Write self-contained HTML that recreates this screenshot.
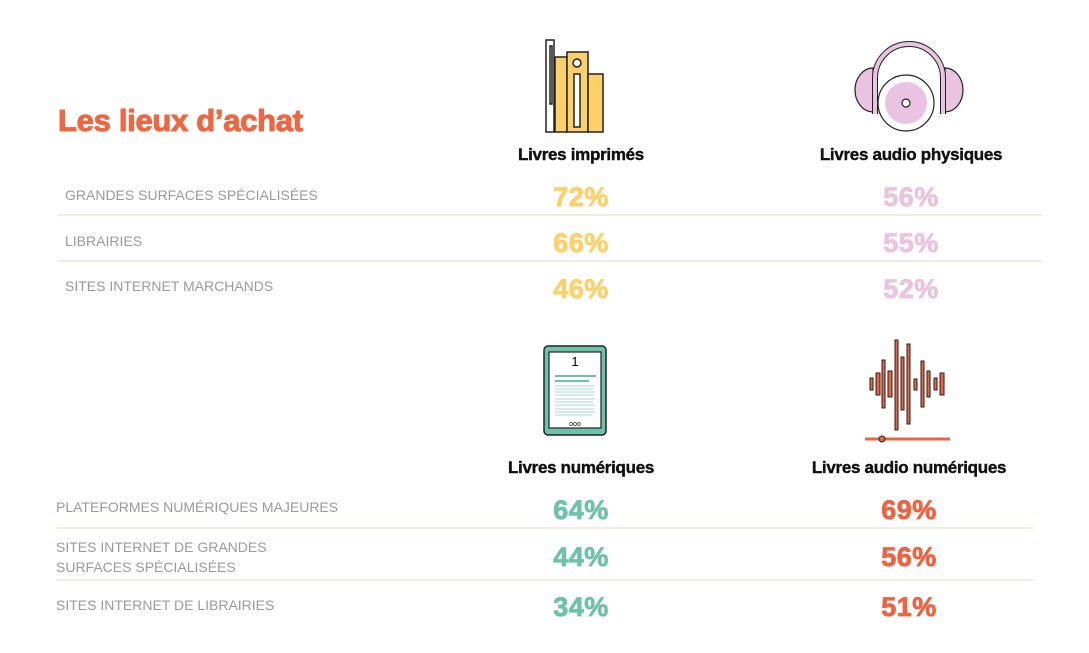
<!DOCTYPE html>
<html><head><meta charset="utf-8"><style>
body{margin:0;background:#fff;width:1089px;height:653px;position:relative;overflow:hidden;font-family:"Liberation Sans",sans-serif}
.a{position:absolute}
.t{left:58px;top:103px;font-size:31px;font-weight:bold;color:#ef6642;letter-spacing:-0.3px;-webkit-text-stroke:1px #ef6642}
.h{font-size:17px;font-weight:bold;color:#111;transform:translateX(-50%);white-space:nowrap;letter-spacing:-0.3px;-webkit-text-stroke:0.4px #111}
.l{font-size:14px;color:#9a9a9a;line-height:20px;letter-spacing:0}
.v{font-size:27px;font-weight:bold;transform:translateX(-50%);letter-spacing:0.5px;-webkit-text-stroke:0.8px currentColor}
.s{height:2px;background:#f6ebe0}
.y{color:#fdd06a}.p{color:#eac4df}.g{color:#6fc2aa}.o{color:#ef6340}
</style></head><body>
<div class="a t">Les lieux d’achat</div>

<svg class="a" style="left:540px;top:36px" width="70" height="100">
<g stroke="#222" stroke-width="1.5"><rect x="6" y="4" width="8" height="92" fill="#fff"/><rect x="10" y="10" width="2" height="58" fill="#fff"/>
<rect x="15" y="21" width="12" height="75" fill="#fdd06a"/><rect x="27" y="16" width="21" height="80" fill="#fdd06a"/><circle cx="37" cy="27" r="4" fill="#fff"/><rect x="34" y="38" width="6" height="53" fill="#fff"/>
<rect x="48" y="38" width="15" height="58" fill="#fdd06a"/></g></svg>
<svg class="a" style="left:853px;top:38px" width="115" height="100">
<g stroke="#222" stroke-width="1.2">
<path d="M20 30 A18 22 0 0 0 20 74 Z" fill="#e9c3df"/><path d="M92 30 A18 22 0 0 1 92 74 Z" fill="#e9c3df"/>
<path d="M22 76 V40 A34 34 0 0 1 90 40 V76" fill="none" stroke="#222" stroke-width="6"/>
<path d="M22 76 V40 A34 34 0 0 1 90 40 V76" fill="none" stroke="#e9c3df" stroke-width="4"/>
<circle cx="53" cy="65" r="28" fill="#fff"/><circle cx="53" cy="65" r="21" fill="#e9c3df" stroke="none"/><circle cx="53" cy="65" r="4" fill="#fff"/></g></svg>

<div class="a h" style="left:581px;top:145px">Livres imprimés</div>
<div class="a h" style="left:911px;top:145px">Livres audio physiques</div>

<div class="a l" style="left:65px;top:185px">GRANDES SURFACES SPÉCIALISÉES</div>
<div class="a l" style="left:65px;top:231px">LIBRAIRIES</div>
<div class="a l" style="left:65px;top:276px">SITES INTERNET MARCHANDS</div>
<div class="a s" style="left:58px;top:214px;width:984px"></div>
<div class="a s" style="left:58px;top:260px;width:984px"></div>

<div class="a v y" style="left:581px;top:182px">72%</div>
<div class="a v y" style="left:581px;top:228px">66%</div>
<div class="a v y" style="left:581px;top:274px">46%</div>
<div class="a v p" style="left:911px;top:182px">56%</div>
<div class="a v p" style="left:911px;top:228px">55%</div>
<div class="a v p" style="left:911px;top:274px">52%</div>

<svg class="a" style="left:542px;top:344px" width="66" height="94">
<rect x="2" y="2" width="62" height="89" rx="4" fill="#6fc2aa" stroke="#222" stroke-width="1.5"/><rect x="7" y="8" width="52" height="76" fill="#fff" stroke="#222" stroke-width="1.2"/>
<text x="33" y="22" font-size="13" text-anchor="middle" font-family="Liberation Sans">1</text>
<g stroke="#6fc2aa"><line x1="13" y1="32" x2="54" y2="32" stroke-width="2"/><line x1="13" y1="37" x2="47" y2="37" stroke-width="2"/>
<g stroke-width="1" opacity=".6"><line x1="13" y1="42" x2="53" y2="42"/><line x1="13" y1="45" x2="51" y2="45"/><line x1="13" y1="48" x2="53" y2="48"/><line x1="13" y1="51" x2="52" y2="51"/><line x1="13" y1="55" x2="53" y2="55"/><line x1="13" y1="58" x2="51" y2="58"/><line x1="13" y1="61" x2="53" y2="61"/><line x1="13" y1="65" x2="52" y2="65"/><line x1="13" y1="68" x2="53" y2="68"/><line x1="13" y1="71" x2="50" y2="71"/></g></g>
<text x="33" y="82" font-size="7" text-anchor="middle" font-family="Liberation Sans">ooo</text></svg>
<svg class="a" style="left:860px;top:336px" width="95" height="110">
<g fill="#ef6340" stroke="#222" stroke-width="1"><rect x="10" y="42" width="3" height="12"/><rect x="16" y="37" width="4" height="22"/><rect x="22" y="24" width="3" height="48"/><rect x="28" y="35" width="4" height="26"/><rect x="35" y="4" width="3" height="90"/><rect x="41" y="21" width="3" height="53"/><rect x="47" y="8" width="3" height="80"/><rect x="54" y="43" width="3" height="11"/><rect x="61" y="25" width="3" height="46"/><rect x="67" y="35" width="3" height="26"/><rect x="74" y="42" width="3" height="12"/><rect x="80" y="37" width="4" height="22"/></g>
<line x1="5" y1="103" x2="90" y2="103" stroke="#ef6340" stroke-width="3"/><circle cx="22" cy="103" r="3" fill="#ef6340" stroke="#222"/></svg>

<div class="a h" style="left:581px;top:458px">Livres numériques</div>
<div class="a h" style="left:909px;top:458px">Livres audio numériques</div>

<div class="a l" style="left:56px;top:497px">PLATEFORMES NUMÉRIQUES MAJEURES</div>
<div class="a l" style="left:56px;top:537px">SITES INTERNET DE GRANDES<br>SURFACES SPÉCIALISÉES</div>
<div class="a l" style="left:56px;top:595px">SITES INTERNET DE LIBRAIRIES</div>
<div class="a s" style="left:56px;top:527px;width:977px"></div>
<div class="a s" style="left:56px;top:579px;width:977px"></div>

<div class="a v g" style="left:581px;top:495px">64%</div>
<div class="a v g" style="left:581px;top:542px">44%</div>
<div class="a v g" style="left:581px;top:592px">34%</div>
<div class="a v o" style="left:909px;top:495px">69%</div>
<div class="a v o" style="left:909px;top:542px">56%</div>
<div class="a v o" style="left:909px;top:592px">51%</div>
</body></html>
